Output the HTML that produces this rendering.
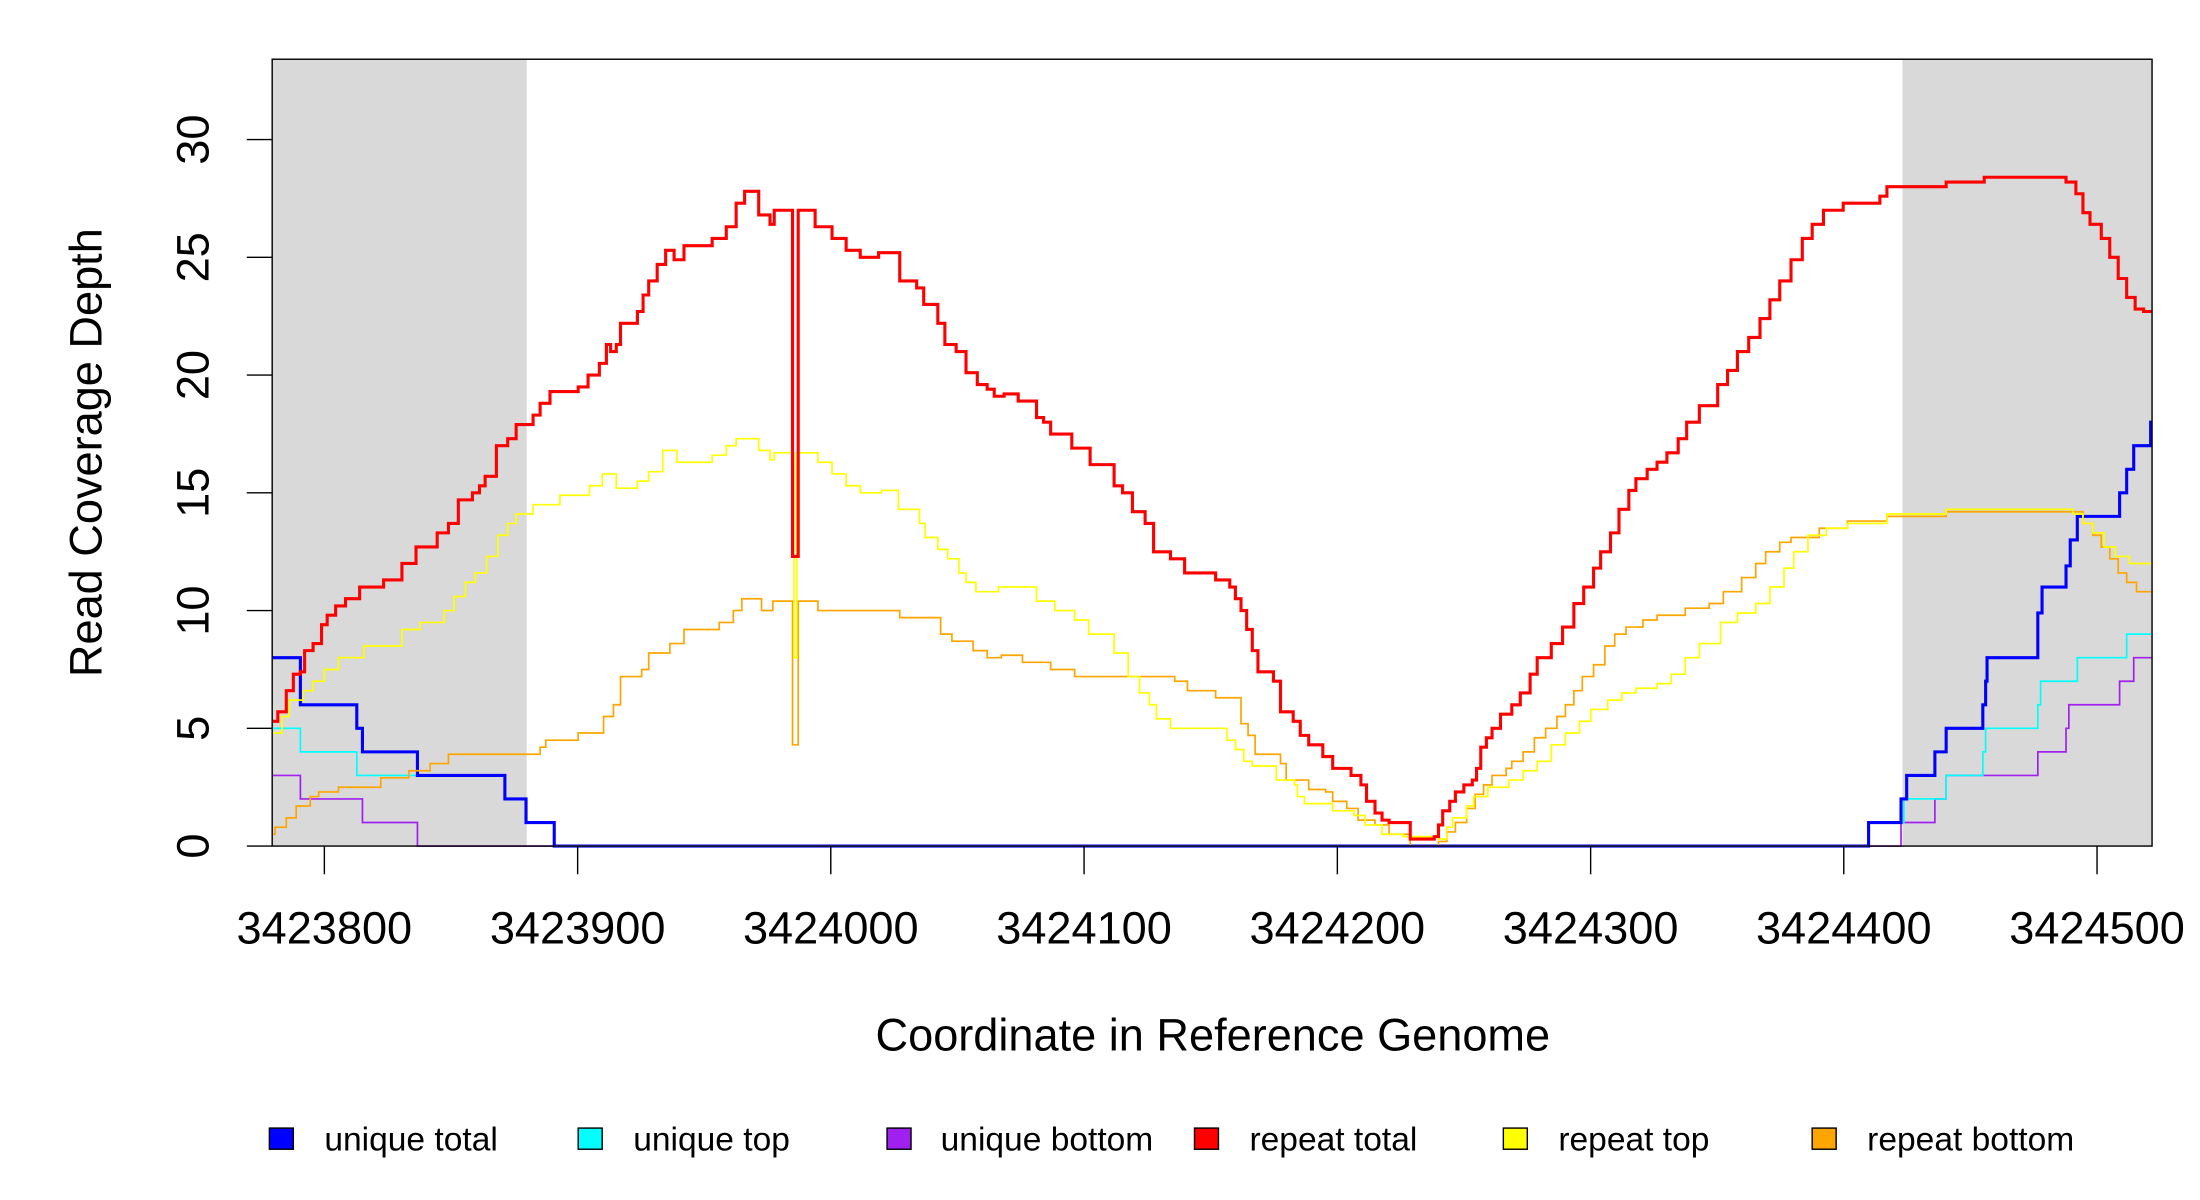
<!DOCTYPE html>
<html><head><meta charset="utf-8"><style>
html,body{margin:0;padding:0;background:#fff;}
svg{display:block;}
text{font-family:"Liberation Sans",Arial,sans-serif;fill:#000;}
</style></head><body>
<svg id="s" width="2200" height="1200" viewBox="0 0 1560 851" preserveAspectRatio="none" xmlns="http://www.w3.org/2000/svg">
<rect x="0" y="0" width="1560" height="851" fill="#fff"/>
<rect x="193" y="42" width="180.5" height="558" fill="#d9d9d9"/>
<rect x="1349" y="42" width="177" height="558" fill="#d9d9d9"/>
<g id="series" fill="none" stroke-linejoin="miter"></g>
<rect x="193" y="42" width="1333" height="558" fill="none" stroke="#000" stroke-width="1"/>
<g stroke="#000" stroke-width="1">
<line x1="175" y1="600" x2="193" y2="600"/><line x1="175" y1="516.5" x2="193" y2="516.5"/>
<line x1="175" y1="433" x2="193" y2="433"/><line x1="175" y1="349.5" x2="193" y2="349.5"/>
<line x1="175" y1="266" x2="193" y2="266"/><line x1="175" y1="182.5" x2="193" y2="182.5"/>
<line x1="175" y1="99" x2="193" y2="99"/>
<line x1="230" y1="600" x2="230" y2="620"/><line x1="409.6" y1="600" x2="409.6" y2="620"/>
<line x1="589.1" y1="600" x2="589.1" y2="620"/><line x1="768.7" y1="600" x2="768.7" y2="620"/>
<line x1="948.3" y1="600" x2="948.3" y2="620"/><line x1="1127.9" y1="600" x2="1127.9" y2="620"/>
<line x1="1307.4" y1="600" x2="1307.4" y2="620"/><line x1="1487" y1="600" x2="1487" y2="620"/>
</g>
<g font-size="32" text-anchor="middle">
<text transform="translate(148,600) rotate(-90)">0</text>
<text transform="translate(148,516.5) rotate(-90)">5</text>
<text transform="translate(148,433) rotate(-90)">10</text>
<text transform="translate(148,349.5) rotate(-90)">15</text>
<text transform="translate(148,266) rotate(-90)">20</text>
<text transform="translate(148,182.5) rotate(-90)">25</text>
<text transform="translate(148,99) rotate(-90)">30</text>
<text transform="translate(72,321) rotate(-90)">Read Coverage Depth</text>
</g>
<g font-size="32" text-anchor="middle">
<text x="230" y="669">3423800</text><text x="409.6" y="669">3423900</text>
<text x="589.1" y="669">3424000</text><text x="768.7" y="669">3424100</text>
<text x="948.3" y="669">3424200</text><text x="1127.9" y="669">3424300</text>
<text x="1307.4" y="669">3424400</text><text x="1487" y="669">3424500</text>
<text x="860" y="745">Coordinate in Reference Genome</text>
</g>
<g stroke="#000" stroke-width="1">
<rect x="191" y="800" width="17" height="15" fill="#0000ff"/>
<rect x="410" y="800" width="17" height="15" fill="#00ffff"/>
<rect x="629" y="800" width="17" height="15" fill="#a020f0"/>
<rect x="847" y="800" width="17" height="15" fill="#ff0000"/>
<rect x="1066" y="800" width="17" height="15" fill="#ffff00"/>
<rect x="1285" y="800" width="17" height="15" fill="#ffa500"/>
</g>
<g font-size="23.8">
<text x="230" y="816">unique total</text><text x="449" y="816">unique top</text>
<text x="667" y="816">unique bottom</text><text x="886" y="816">repeat total</text>
<text x="1105" y="816">repeat top</text><text x="1324" y="816">repeat bottom</text>
</g>
</svg>
<script>
function Y(v){return 600-v*16.7;}
function step(pts,end){var d="M"+pts[0][0]+" "+Y(pts[0][1]).toFixed(1);
for(var i=1;i<pts.length;i++){d+=" H"+pts[i][0]+" V"+Y(pts[i][1]).toFixed(1);}
d+=" H"+end;return d;}
var red=[[193,5.3],[197,5.7],[203,6.6],[208,7.3],[213,7.4],[216,8.3],[222,8.6],[228,9.4],[232,9.8],[238,10.2],[245,10.5],[255,11],[272,11.3],[285,12],[295,12.7],[310,13.3],[318,13.7],[325,14.7],[335,15],[340,15.3],[344,15.7],[352,17],[360,17.3],[366,17.9],[378,18.3],[383,18.8],[390,19.3],[410,19.5],[417,20],[425,20.5],[430,21.3],[433,21],[437,21.3],[440,22.2],[452,22.7],[456,23.4],[460,24],[466,24.7],[472,25.3],[478,24.9],[485,25.5],[505,25.8],[515,26.3],[522,27.3],[528,27.8],[538,26.8],[546,26.4],[549,27],[562,12.3],[566,27],[578,26.3],[590,25.8],[600,25.3],[610,25],[623,25.2],[638,24],[650,23.7],[655,23],[665,22.2],[670,21.3],[678,21],[685,20.1],[693,19.6],[700,19.4],[705,19.1],[712,19.2],[722,18.9],[735,18.2],[740,18],[745,17.5],[760,16.9],[773,16.2],[790,15.3],[796,15],[803,14.2],[812,13.7],[818,12.5],[830,12.2],[840,11.6],[862,11.3],[872,11],[876,10.5],[880,10],[884,9.2],[888,8.3],[892,7.4],[903,7],[908,5.7],[917,5.3],[922,4.7],[928,4.3],[938,3.8],[945,3.3],[958,3],[965,2.6],[969,1.9],[975,1.4],[980,1.1],[985,1],[1000,0.3],[1017,0.4],[1020,0.9],[1023,1.5],[1028,1.9],[1032,2.3],[1038,2.6],[1044,2.8],[1047,3.3],[1050,4.2],[1054,4.6],[1058,5],[1064,5.6],[1072,6],[1078,6.5],[1085,7.3],[1090,8],[1100,8.6],[1108,9.3],[1116,10.3],[1123,11],[1130,11.8],[1135,12.5],[1142,13.3],[1148,14.3],[1155,15.1],[1160,15.6],[1168,16],[1175,16.3],[1182,16.7],[1190,17.3],[1196,18],[1205,18.7],[1218,19.6],[1225,20.2],[1232,21],[1240,21.6],[1248,22.4],[1255,23.2],[1262,24],[1270,24.9],[1278,25.8],[1285,26.4],[1293,27],[1307,27.3],[1333,27.6],[1338,28],[1380,28.2],[1407,28.4],[1465,28.2],[1472,27.7],[1477,26.9],[1482,26.4],[1490,25.8],[1496,25],[1502,24.1],[1508,23.3],[1514,22.8],[1520,22.7]];
var yel=[[193,4.8],[200,5.5],[205,6.2],[215,6.6],[222,7],[230,7.5],[240,8],[258,8.5],[285,9.2],[298,9.5],[315,10],[322,10.6],[330,11.2],[337,11.6],[345,12.3],[353,13.2],[360,13.7],[366,14.1],[378,14.5],[397,14.9],[418,15.3],[427,15.8],[437,15.2],[452,15.5],[460,15.9],[470,16.8],[480,16.3],[505,16.6],[515,17],[522,17.3],[538,16.8],[546,16.4],[549,16.7],[563,8],[565,16.7],[580,16.3],[590,15.8],[600,15.3],[610,15],[625,15.1],[637,14.3],[652,13.7],[656,13.1],[665,12.6],[672,12.2],[680,11.6],[685,11.2],[692,10.8],[703,10.8],[708,11],[735,10.4],[748,10],[762,9.6],[772,9],[790,8.2],[800,7.2],[808,6.5],[815,6],[820,5.4],[830,5],[870,4.5],[876,4.1],[882,3.6],[888,3.4],[905,2.8],[918,2.6],[920,2.1],[925,1.8],[945,1.5],[960,1.3],[968,0.9],[980,0.5],[995,0.4],[1020,0.3],[1026,0.8],[1030,1.2],[1040,1.7],[1045,2.1],[1055,2.5],[1070,2.8],[1080,3.2],[1090,3.6],[1100,4.3],[1110,4.8],[1120,5.3],[1128,5.8],[1140,6.2],[1150,6.5],[1160,6.7],[1175,6.9],[1185,7.3],[1195,8],[1205,8.6],[1220,9.5],[1232,9.9],[1245,10.3],[1255,11],[1265,11.8],[1272,12.5],[1282,13.2],[1295,13.5],[1310,13.7],[1338,14.1],[1380,14.3],[1470,14.1],[1477,13.7],[1484,13.3],[1492,12.7],[1500,12.3],[1510,12],[1520,12]];
var ora=[[193,0.5],[195,0.8],[203,1.2],[210,1.7],[220,2.1],[226,2.3],[240,2.5],[270,2.9],[290,3.2],[305,3.5],[318,3.9],[383,4.2],[387,4.5],[410,4.8],[428,5.5],[435,6],[440,7.2],[455,7.5],[460,8.2],[475,8.6],[485,9.2],[510,9.5],[520,10],[526,10.5],[540,10],[548,10.4],[562,4.3],[566,10.4],[580,10],[638,9.7],[667,9],[675,8.7],[690,8.3],[700,8],[710,8.1],[725,7.8],[745,7.5],[762,7.2],[833,7],[842,6.6],[862,6.3],[880,5.2],[885,4.7],[890,3.9],[908,3.5],[912,2.8],[928,2.4],[940,2.3],[945,1.9],[955,1.6],[963,1.1],[975,0.9],[985,0.5],[1000,0],[1020,0.2],[1026,0.6],[1032,1],[1040,1.6],[1046,2.2],[1052,2.6],[1058,3],[1068,3.3],[1072,3.6],[1080,4],[1088,4.6],[1096,5],[1104,5.5],[1110,6],[1116,6.6],[1122,7.2],[1130,7.7],[1138,8.5],[1145,9],[1153,9.3],[1165,9.6],[1175,9.8],[1195,10.1],[1212,10.3],[1222,10.8],[1235,11.4],[1245,12],[1252,12.5],[1262,12.9],[1270,13.1],[1290,13.5],[1310,13.8],[1338,14],[1380,14.2],[1472,14.2],[1477,13.7],[1484,13.2],[1490,12.7],[1496,12.2],[1502,11.6],[1508,11.2],[1515,10.8]];
var blu=[[193,8],[213,6],[253,5],[257,4],[296,3],[358,2],[373,1],[393,0],[1325,1],[1348,2],[1352,3],[1372,4],[1380,5],[1406,6],[1408,7],[1409,8],[1445,9.9],[1448,11],[1465,11.9],[1468,13],[1473,14],[1503,15],[1508,16],[1513,17],[1525,18]];
var cya=[[193,5],[213,4],[253,3],[296,3],[358,2],[373,1],[393,0],[1325,1],[1350,2],[1380,3],[1406,4],[1408,5],[1445,6],[1447,7],[1473,8],[1508,9]];
var pur=[[193,3],[213,2],[257,1],[296,0],[1348,1],[1372,2],[1380,3],[1445,4],[1465,5],[1467,6],[1503,7],[1513,8]];
var g=document.getElementById("series");
function add(p,col,w,end){var e=document.createElementNS("http://www.w3.org/2000/svg","path");e.setAttribute("d",step(p,end));e.setAttribute("stroke",col);e.setAttribute("stroke-width",w);g.appendChild(e);}
add(pur,"#a020f0",1.2,1526);
add(cya,"#00ffff",1.2,1526);
add(blu,"#0000ff",2.2,1526);
add(ora,"#ffa500",1.2,1526);
add(yel,"#ffff00",1.2,1526);
add(red,"#ff0000",2.2,1526);
var e=document.createElementNS("http://www.w3.org/2000/svg","line");e.setAttribute("x1",393);e.setAttribute("x2",1325);e.setAttribute("y1",600);e.setAttribute("y2",600);e.setAttribute("stroke","#5050ff");e.setAttribute("stroke-width",1.5);g.appendChild(e);
</script>
</body></html>
